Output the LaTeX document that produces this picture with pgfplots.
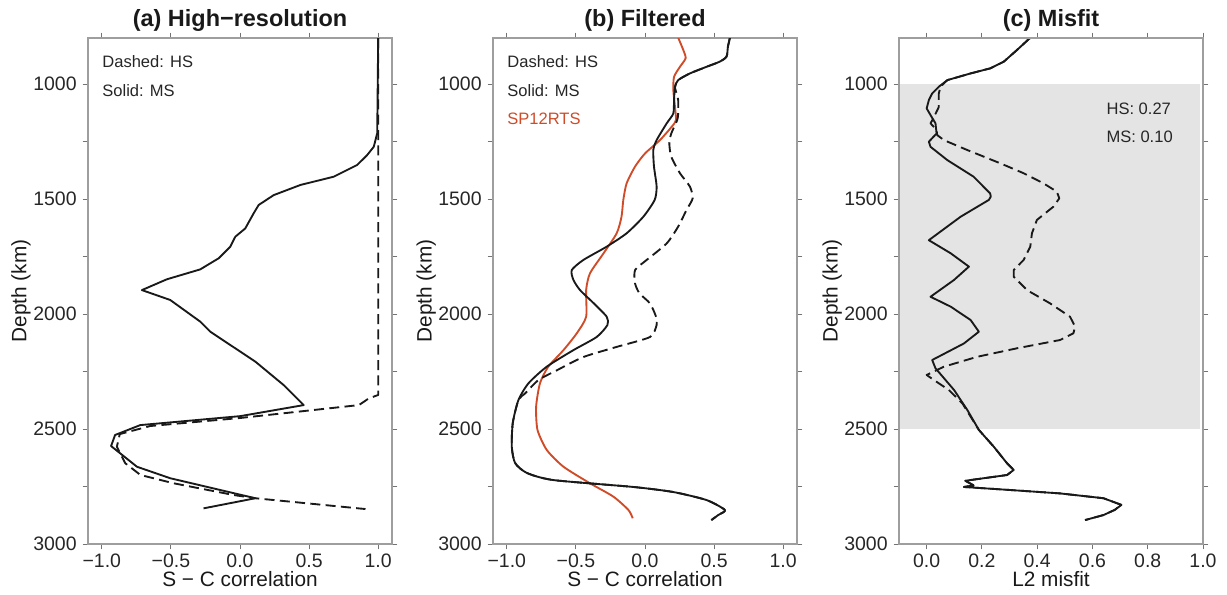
\documentclass[border=0pt]{standalone}
\usepackage{pgfplots}
\pgfplotsset{compat=1.18}
\usepackage{fontspec}
\setmainfont{Liberation Sans}
\definecolor{spred}{HTML}{D04B28}
\definecolor{shade}{HTML}{E4E4E4}
\tikzset{ann/.style={anchor=west, font=\fontsize{12.4}{13}\selectfont, text=black!85}}
\pgfplotsset{
  panel/.style={
    scale only axis, width=228pt, height=379.5pt,
    y dir=reverse, ymin=800, ymax=3000,
    ytick={1000,1500,2000,2500,3000},
    yticklabels={1000,1500,2000,2500,3000},
    minor ytick={1250,1750,2250,2750},
    tick align=outside,
    major tick length=4pt, minor tick length=4pt,
    axis line style={draw=black!38, line width=0.8pt},
    every tick/.style={draw=black!55, line width=0.7pt},
    tick label style={font=\fontsize{14.6}{15}\selectfont, text=black!85},
    xticklabel style={anchor=center, yshift=-8.5pt},
    yticklabel style={anchor=east, xshift=-1pt},
    label style={font=\fontsize{15.6}{16}\selectfont, text=black!90},
    xlabel style={at={(axis description cs:0.5,-0.069)}, anchor=center},
    ylabel style={at={(axis description cs:-0.22,0.5)}, anchor=center},
    title style={at={(axis description cs:0.5,1.0198)}, anchor=center, font=\bfseries\fontsize{17.6}{18}\selectfont, text=black!90},
    ylabel={Depth (km)},
    clip=true,
  },
  corr/.style={
    xmin=-1.1, xmax=1.1,
    xtick={-1,-0.5,0,0.5,1},
    xticklabels={−1.0,−0.5,0.0,0.5,1.0},
    xlabel={S − C correlation},
  },
  ms/.style={black!90, line width=1.4pt, line join=round},
  hs/.style={black!90, line width=1.4pt, dash pattern=on 7.5pt off 4pt, line join=round},
}
\begin{document}
\begin{tikzpicture}
\useasboundingbox (0,0) rectangle (920.25pt,445.5pt);

% ---------------- (a)
\begin{axis}[panel, corr, at={(66pt,37.5pt)}, anchor=south west, title={(a) High−resolution}]
\addplot[hs] coordinates {
(1.0,800) (1.0,2352) (0.932,2367) (0.86,2396) (0.002,2452) (-0.65,2487) (-0.87,2522)
(-0.891,2577) (-0.83,2649) (-0.72,2700) (-0.48,2736) (-0.046,2787) (0.111,2801) (0.908,2848)
};
\addplot[ms] coordinates {
(1.0,800) (0.995,1100) (0.993,1214) (0.968,1273) (0.92,1309) (0.848,1352) (0.678,1403)
(0.437,1439) (0.244,1483) (0.135,1526) (0.099,1562) (0.038,1628) (-0.034,1664) (-0.07,1707)
(-0.155,1758) (-0.288,1806) (-0.529,1849) (-0.71,1896) (-0.505,1939) (-0.288,2033)
(-0.215,2077) (0.111,2207) (0.316,2309) (0.461,2396) (0.002,2444) (-0.722,2483)
(-0.904,2526) (-0.933,2574) (-0.746,2664) (-0.505,2714) (0.111,2801) (-0.264,2845)
};
\node[ann] at (axis cs:-1.03,904) {Dashed: HS};
\node[ann] at (axis cs:-1.03,1030) {Solid: MS};
\end{axis}

% ---------------- (b)
\begin{axis}[panel, corr, at={(369.75pt,37.5pt)}, anchor=south west, title={(b) Filtered}]
\addplot[spred, line width=1.4pt, smooth, tension=0.4] coordinates {
(0.241,800) (0.277,852) (0.294,888) (0.253,925) (0.21,969) (0.205,1027) (0.217,1099)
(0.224,1157) (0.193,1186) (0.108,1244) (0.0,1302) (-0.072,1359) (-0.133,1432) (-0.157,1504)
(-0.17,1577) (-0.205,1649) (-0.3,1736) (-0.398,1823) (-0.426,1896) (-0.426,2012)
(-0.494,2084) (-0.59,2157) (-0.70,2229) (-0.76,2301) (-0.788,2403) (-0.778,2504)
(-0.711,2591) (-0.59,2664) (-0.398,2736) (-0.229,2794) (-0.12,2852) (-0.089,2888)
};
\addplot[hs, smooth, tension=0.4] coordinates {
(0.614,800) (0.60,838) (0.59,881) (0.54,903) (0.446,925) (0.325,954) (0.24,983) (0.217,1013)
(0.229,1042) (0.24,1070) (0.24,1128) (0.233,1157) (0.19,1215) (0.176,1258) (0.19,1316)
(0.253,1388) (0.325,1446) (0.345,1497) (0.30,1548) (0.24,1620) (0.157,1693) (0.012,1765)
(-0.072,1809) (-0.072,1867) (-0.04,1910) (0.036,1954) (0.08,2012) (0.084,2048) (0.036,2100)
(-0.205,2143) (-0.446,2187) (-0.639,2245) (-0.771,2287) (-0.867,2345) (-0.916,2374)
(-0.957,2474) (-0.964,2578) (-0.94,2648) (-0.855,2691) (-0.663,2722) (-0.084,2752)
(0.205,2774) (0.446,2809) (0.578,2852) (0.53,2874) (0.48,2896)
};
\addplot[ms, smooth, tension=0.4] coordinates {
(0.614,800) (0.60,838) (0.59,881) (0.54,903) (0.446,925) (0.325,954) (0.24,983) (0.217,1013)
(0.21,1070) (0.205,1128) (0.157,1171) (0.084,1244) (0.06,1287) (0.065,1359) (0.084,1446)
(0.07,1504) (-0.012,1577) (-0.133,1649) (-0.277,1707) (-0.446,1765) (-0.53,1809)
(-0.518,1852) (-0.47,1896) (-0.37,1954) (-0.277,2012) (-0.272,2048) (-0.35,2100)
(-0.518,2157) (-0.711,2229) (-0.843,2301) (-0.916,2374) (-0.957,2474) (-0.964,2578)
(-0.94,2648) (-0.855,2691) (-0.663,2722) (-0.084,2752) (0.205,2774) (0.446,2809)
(0.578,2852) (0.53,2874) (0.48,2896)
};
\node[ann] at (axis cs:-1.03,904) {Dashed: HS};
\node[ann] at (axis cs:-1.03,1030) {Solid: MS};
\node[ann, text=spred] at (axis cs:-1.03,1152) {SP12RTS};
\end{axis}

% ---------------- (c)
\begin{axis}[panel, at={(674.25pt,37.5pt)}, anchor=south west, title={(c) Misfit},
  xmin=-0.1, xmax=1.0, xtick={0,0.2,0.4,0.6,0.8,1.0},
  xticklabels={0.0,0.2,0.4,0.6,0.8,1.0}, xlabel={L2 misfit}, axis on top]
\addplot[fill=shade, draw=none] coordinates {(-0.1,1000) (0.99,1000) (0.99,2500) (-0.1,2500)} -- cycle;
\addplot[hs] coordinates {
(0.373,801) (0.327,852) (0.279,903) (0.23,932) (0.159,954) (0.075,983) (0.05,1012)
(0.044,1041) (0.044,1100) (0.024,1150) (0.014,1171) (0.036,1200) (0.038,1222) (0.0625,1244)
(0.147,1287) (0.267,1345) (0.351,1388) (0.423,1432) (0.471,1468) (0.48,1497) (0.459,1533)
(0.399,1591) (0.381,1649) (0.375,1707) (0.351,1765) (0.315,1809) (0.315,1838) (0.351,1881)
(0.363,1896) (0.447,1954) (0.519,2012) (0.537,2055) (0.531,2084) (0.483,2113) (0.327,2149)
(0.183,2186) (0.0625,2229) (0.0,2265) (0.026,2287) (0.08,2330) (0.129,2388) (0.159,2446)
(0.189,2504) (0.243,2577) (0.291,2649) (0.315,2678) (0.291,2700) (0.14,2725) (0.17,2745)
(0.135,2752) (0.30,2765) (0.483,2780) (0.64,2801) (0.705,2830) (0.68,2852) (0.64,2874) (0.573,2896)
};
\addplot[ms] coordinates {
(0.373,801) (0.327,852) (0.279,903) (0.23,932) (0.159,954) (0.075,983) (0.044,1012)
(0.02,1041) (0.008,1070) (0.0,1106) (0.014,1135) (0.032,1171) (0.036,1215) (0.008,1251)
(0.014,1273) (0.075,1331) (0.17,1403) (0.23,1476) (0.232,1490) (0.225,1504) (0.123,1577)
(0.008,1679) (0.087,1736) (0.153,1794) (0.099,1852) (0.014,1925) (0.087,1968) (0.159,2026)
(0.189,2077) (0.135,2128) (0.02,2200) (0.032,2236) (0.099,2330) (0.147,2417) (0.189,2504)
(0.243,2577) (0.291,2649) (0.315,2678) (0.291,2700) (0.14,2725) (0.17,2745) (0.135,2752)
(0.30,2765) (0.483,2780) (0.64,2801) (0.705,2830) (0.68,2852) (0.64,2874) (0.573,2896)
};
\node[ann] at (axis cs:0.634,1109) {HS: 0.27};
\node[ann] at (axis cs:0.634,1230) {MS: 0.10};
\end{axis}
\end{tikzpicture}
\end{document}
